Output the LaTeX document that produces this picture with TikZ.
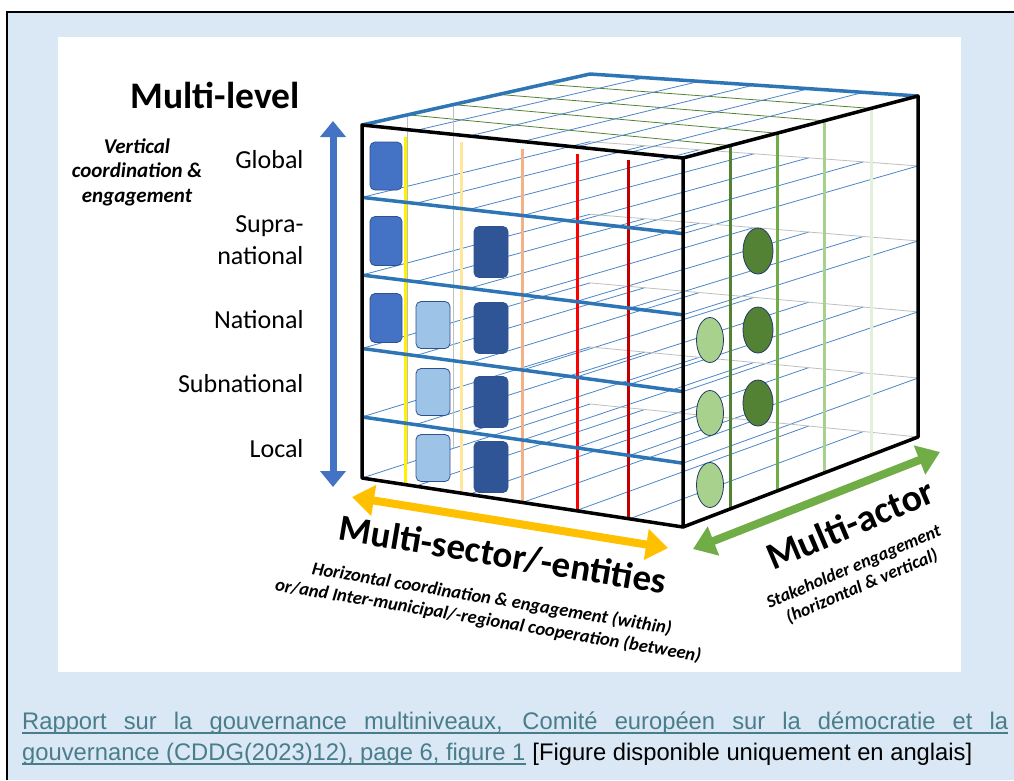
\documentclass[tikz,border=0pt]{standalone}
\usepackage{fontspec}
\setmainfont{Carlito}
\newfontfamily\capfont[FakeStretch=0.99]{Liberation Sans}
\usetikzlibrary{arrows.meta,calc,shapes.geometric}
\definecolor{bgblue}{HTML}{DAE8F6}
\definecolor{cubeblue}{HTML}{2E75B6}
\definecolor{thinblue}{HTML}{4A86C8}
\definecolor{lvblue}{HTML}{4472C4}
\definecolor{lightbox}{HTML}{9DC3E6}
\definecolor{darkbox}{HTML}{2F5597}
\definecolor{boxedge}{HTML}{2F528F}
\definecolor{dkgreen}{HTML}{548235}
\definecolor{mdgreen}{HTML}{70AD47}
\definecolor{ltgreen}{HTML}{A9D18E}
\definecolor{pagreen}{HTML}{E2F0D9}
\definecolor{ltorange}{HTML}{FFE699}
\definecolor{orange}{HTML}{F4B183}
\definecolor{darkred}{HTML}{C00000}
\definecolor{arrorange}{HTML}{FFC000}
\definecolor{capteal}{HTML}{4A7D8C}

% point of the cube: t across, s in depth, f down
\newcommand\cubecoord[4]{%
  \pgfmathsetmacro\fy{(125+33*#2)*(1-#4)+(478+49*#2)*#4}%
  \pgfmathsetmacro\by{(74+22*#2)*(1-#4)+(404+33*#2)*#4}%
  \pgfmathsetmacro\px{(362+321*#2)*(1-#3)+(590+328*#2)*#3}%
  \pgfmathsetmacro\py{\fy*(1-#3)+\by*#3}%
  \coordinate (#1) at (\px,\py);}

\begin{document}
\begin{tikzpicture}[x=1pt,y=-1pt,
  thin line/.style={line width=0.8pt},
  levelbox/.style={rectangle, rounded corners=5pt, draw=boxedge, line width=0.8pt, inner sep=0pt},
  actor/.style={ellipse, draw=boxedge!70!black, line width=0.8pt, inner sep=0pt},
  level/.style={anchor=east, align=right, font=\fontsize{26}{32}\selectfont},
  big/.style={font=\bfseries\fontsize{37}{40}\selectfont},
  note/.style={align=center, font=\bfseries\itshape\fontsize{18.5}{22}\selectfont}]
\useasboundingbox (0,0) rectangle (1014,780);
\fill[bgblue] (7,12) rectangle (1014,780);
\draw[line width=1.5pt] (7,780) -- (7,12) -- (1014,12);
\fill[white] (58,37) rectangle (961,672);

% corners
\coordinate (ftl) at (362,125);
\coordinate (ftr) at (683,158);
\coordinate (fbl) at (362,478);
\coordinate (fbr) at (683,527);
\coordinate (btl) at (590,74);
\coordinate (btr) at (918,96);
\coordinate (bbr) at (918,437);

% level planes
\foreach \fa in {0.205,0.425,0.633,0.827,1}{
  \foreach \ta in {0,1/6,2/6,3/6,4/6,5/6,1}{
    \cubecoord{p}{\ta}{0}{\fa}\cubecoord{q}{\ta}{1}{\fa}
    \draw[thin line, thinblue] (p) -- (q);
  }
  \cubecoord{p}{0}{1}{\fa}\cubecoord{q}{1}{1}{\fa}
  \draw[thin line, black!25] (p) -- (q);
}
% top face
\foreach \sa in {0.2,0.4,0.6,0.8}{
  \cubecoord{p}{0}{\sa}{0}\cubecoord{q}{1}{\sa}{0}
  \draw[thin line, dkgreen] (p) -- (q);
}
\foreach \ta in {1/6,2/6,3/6,4/6,5/6}{
  \cubecoord{p}{\ta}{0}{0}\cubecoord{q}{\ta}{1}{0}
  \draw[thin line, thinblue] (p) -- (q);
}
\foreach \sa in {0.2,0.4}{
  \cubecoord{p}{0}{\sa}{0}\cubecoord{q}{0}{\sa}{1}
  \draw[thin line, black!25] (p) -- (q);
}

% sectors
\foreach \ta/\col in {0.134/yellow,0.31/ltorange,0.5/orange,0.67/red,0.83/darkred}{
  \cubecoord{p}{\ta}{0}{0.02}\cubecoord{q}{\ta}{0}{1}
  \draw[line width=3pt, \col] (p) -- (q);
}
% actors
\foreach \sa/\col in {0.2/dkgreen,0.4/mdgreen,0.6/ltgreen,0.8/pagreen}{
  \cubecoord{p}{1}{\sa}{0}\cubecoord{q}{1}{\sa}{1}
  \draw[line width=3pt, \col] (p) -- (q);
}
% levels
\foreach \fa in {0.205,0.425,0.633,0.827}{
  \cubecoord{p}{0}{0}{\fa}\cubecoord{q}{1}{0}{\fa}
  \draw[line width=3.5pt, cubeblue] (p) -- (q);
}

\node[levelbox, fill=lvblue, minimum width=32pt, minimum height=48pt] (gl1) at (386,166) {};
\node[levelbox, fill=lvblue, minimum width=32pt, minimum height=49pt] (gl2) at (386,241) {};
\node[levelbox, fill=lvblue, minimum width=32pt, minimum height=49pt] (gl3) at (386,318) {};
\node[levelbox, fill=lightbox, minimum width=34pt, minimum height=47pt] (lb1) at (433,325) {};
\node[levelbox, fill=lightbox, minimum width=34pt, minimum height=47pt] (lb2) at (433,392) {};
\node[levelbox, fill=lightbox, minimum width=34pt, minimum height=47pt] (lb3) at (433,458) {};
\node[levelbox, fill=darkbox, minimum width=34pt, minimum height=51pt] (db1) at (491,252) {};
\node[levelbox, fill=darkbox, minimum width=34pt, minimum height=51pt] (db2) at (491,328) {};
\node[levelbox, fill=darkbox, minimum width=34pt, minimum height=51pt] (db3) at (491,402) {};
\node[levelbox, fill=darkbox, minimum width=34pt, minimum height=51pt] (db4) at (491,467) {};

\node[actor, fill=ltgreen, minimum width=27pt, minimum height=45pt] (la1) at (710,340) {};
\node[actor, fill=ltgreen, minimum width=27pt, minimum height=45pt] (la2) at (710,413) {};
\node[actor, fill=ltgreen, minimum width=27pt, minimum height=45pt] (la3) at (710,485) {};
\node[actor, fill=dkgreen, minimum width=30pt, minimum height=46pt] (da1) at (758,251) {};
\node[actor, fill=dkgreen, minimum width=30pt, minimum height=46pt] (da2) at (758,330) {};
\node[actor, fill=dkgreen, minimum width=30pt, minimum height=46pt] (da3) at (758,403) {};

% outline
\draw[line width=3.5pt, cubeblue, line join=round] (ftl) -- (btl) -- (btr);
\draw[line width=3.5pt, line join=round] (ftl) -- (ftr) -- (fbr) -- (fbl) -- cycle;
\draw[line width=3.5pt, line join=round] (ftr) -- (btr) -- (bbr) -- (fbr);

% axes
\coordinate (lvtop) at (333,121);
\coordinate (lvbot) at (333,487);
\coordinate (secl) at (352,497);
\coordinate (secr) at (668,548);
\coordinate (actl) at (693,549);
\coordinate (actr) at (940,452);
\draw[line width=7pt, lvblue, {Triangle[length=16pt,width=25pt]}-{Triangle[length=16pt,width=25pt]}] (lvtop) -- (lvbot);
\draw[line width=8pt, arrorange, {Triangle[length=22pt,width=30pt]}-{Triangle[length=22pt,width=30pt]}] (secl) -- (secr);
\draw[line width=8pt, mdgreen, {Triangle[length=22pt,width=30pt]}-{Triangle[length=22pt,width=30pt]}] (actl) -- (actr);

\node[font=\bfseries\fontsize{37.5}{40}\selectfont] (mlevel) at (215,95) {Multi-level};
\node[align=center, font=\bfseries\itshape\fontsize{21}{24.5}\selectfont] (vert) at (137,172) {Vertical\\coordination \&\\engagement};
\node[level] (global) at (307,160) {Global};
\node[level] (supra) at (307,240) {Supra-\\national};
\node[level] (national) at (307,320) {National};
\node[level] (subnat) at (307,384) {Subnational};
\node[level] (local) at (307,449) {Local};

\node[big, rotate=-9.5] (msector) at (503,555) {Multi-sector/-entities};
\node[note, rotate=-9.5] (horiz) at (490,610) {Horizontal coordination \& engagement (within)\\or/and Inter-municipal/-regional cooperation (between)};
\node[big, font=\bfseries\fontsize{38}{40}\selectfont, rotate=23] (mactor) at (850,524) {Multi-actor};
\node[note, font=\bfseries\itshape\fontsize{18}{21}\selectfont, rotate=23] (stake) at (858,577) {Stakeholder engagement\\(horizontal \& vertical)};

% caption
\node[anchor=base west, inner sep=0pt, text=capteal, font=\capfont\fontsize{24}{26}\selectfont] (cap1) at (22,729)
  {\makebox[986pt][s]{Rapport sur la gouvernance multiniveaux, Comité européen sur la démocratie et la}};
\node[anchor=base west, inner sep=0pt, text=capteal, font=\capfont\fontsize{24}{26}\selectfont] (cap2) at (22,760)
  {gouvernance (CDDG(2023)12), page 6, figure 1};
\node[anchor=base west, inner sep=0pt, font=\capfont\fontsize{24}{26}\selectfont] (cap3) at (cap2.base east)
  {\ [Figure disponible uniquement en anglais]};
\draw[capteal, line width=1.2pt] ($(cap1.base west)+(0,4)$) -- ($(cap1.base east)+(0,4)$);
\draw[capteal, line width=1.2pt] ($(cap2.base west)+(0,4)$) -- ($(cap2.base east)+(0,4)$);
\end{tikzpicture}
\end{document}
